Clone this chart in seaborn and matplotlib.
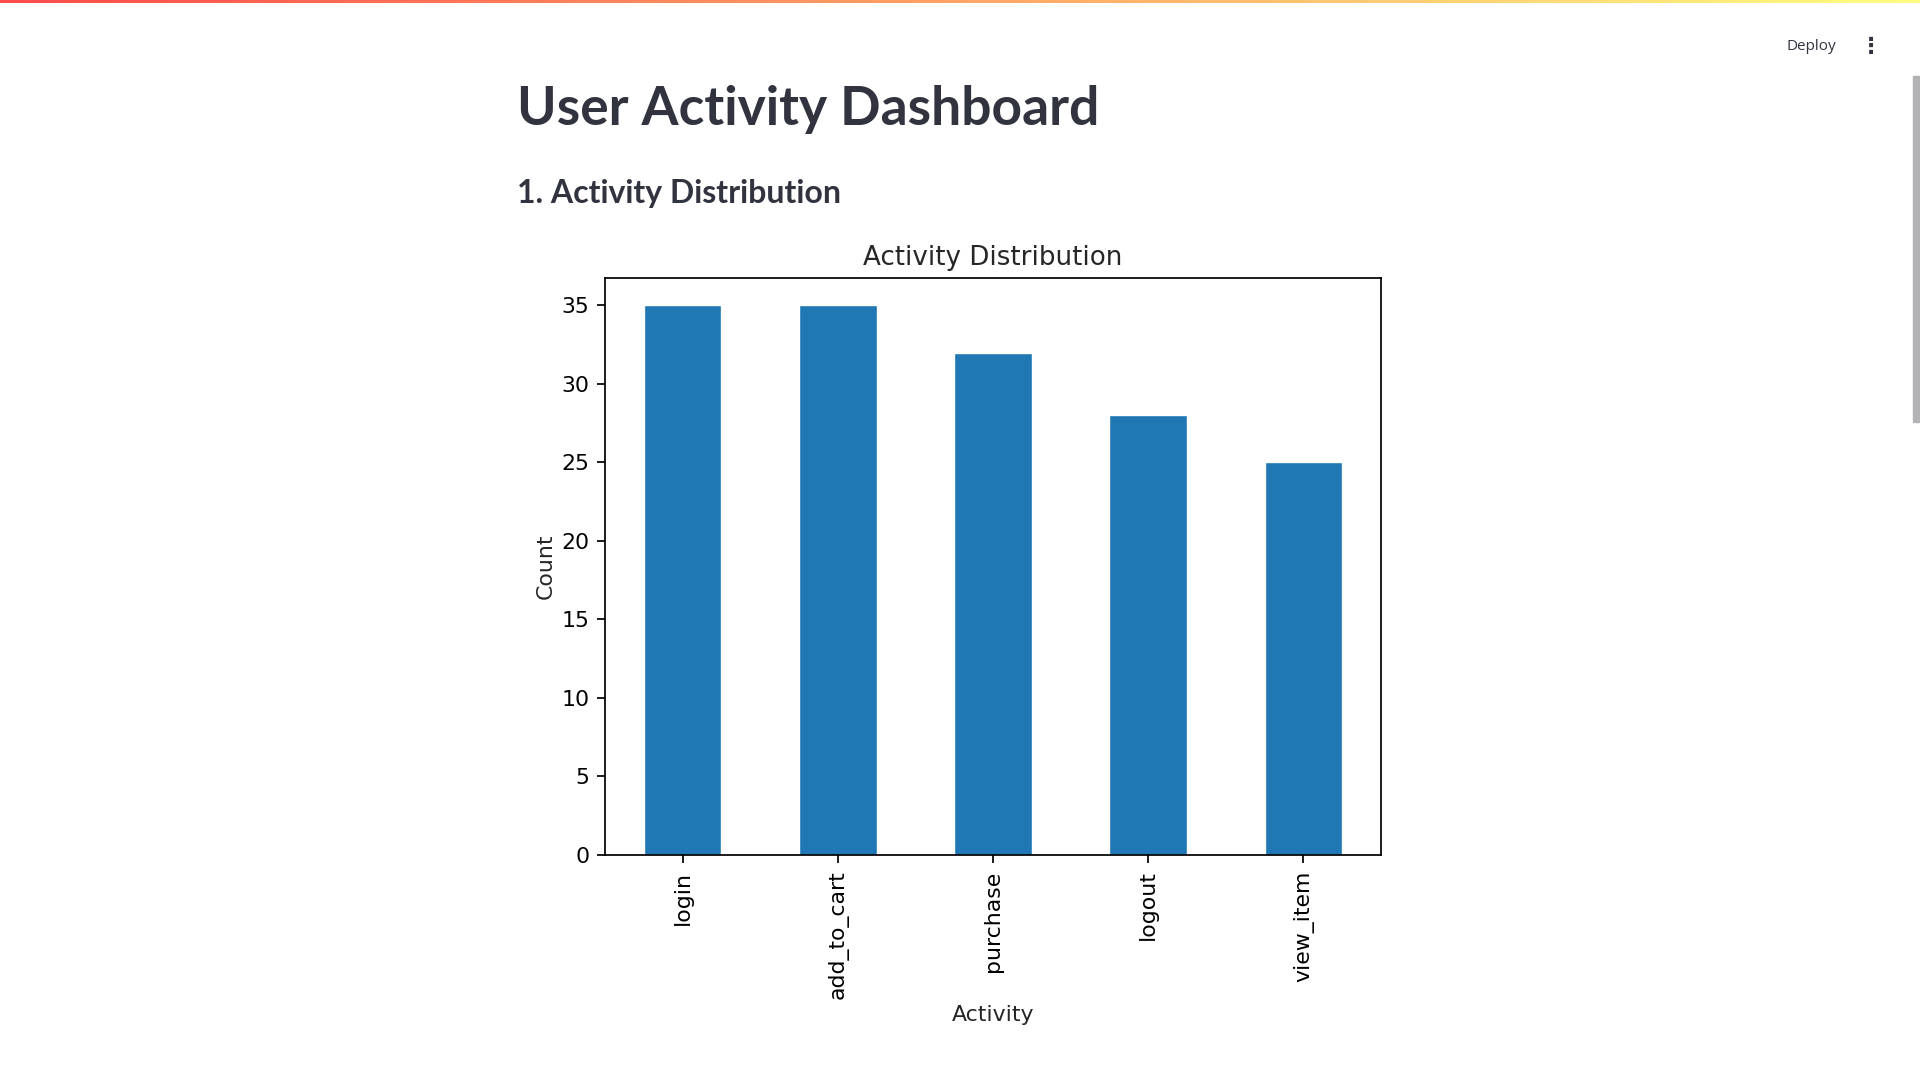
import numpy as np
import pandas as pd
import matplotlib
matplotlib.use("Agg")
import matplotlib.pyplot as plt
import seaborn as sns
from matplotlib.patches import Rectangle

# activity counts
activities = ["login", "add_to_cart", "purchase", "logout", "view_item"]
counts = [35, 35, 32, 28, 25]

df = pd.DataFrame({"Activity": activities, "Count": counts})

sns.set_style("white")
plt.rcParams['font.family'] = ['DejaVu Sans']
plt.rcParams['axes.linewidth'] = 1.25
plt.rcParams['xtick.major.width'] = 1.25
plt.rcParams['ytick.major.width'] = 1.25
plt.rcParams['xtick.major.size'] = 5.6
plt.rcParams['ytick.major.size'] = 5.6
plt.rcParams['xtick.major.pad'] = 5.6
plt.rcParams['ytick.major.pad'] = 5.6

W, H = 1920, 1080
fig = plt.figure(figsize=(19.2, 10.8), dpi=100)
fig.patch.set_facecolor("white")

# streamlit header gradient
top = fig.add_axes([0, 1 - 3 / H, 1, 3 / H])
grad = np.linspace(0, 1, 256).reshape(1, -1)
cmap = matplotlib.colors.LinearSegmentedColormap.from_list("hdr", ["#ff4b4b", "#fffd80"])
top.imshow(grad, aspect="auto", cmap=cmap)
top.axis("off")

# scrollbar
fig.patches.append(Rectangle((1913 / W, 1 - 422 / H), 6 / W, 346 / H,
                             transform=fig.transFigure, color="#b3b3b6", zorder=0))

txt = "#31333F"
fig.text(1787 / W, 1 - 47 / H, "Deploy", fontsize=11, color=txt, va="center",
         family=["Open Sans", "DejaVu Sans"])
fig.text(1871 / W, 1 - 47 / H, "\u22EE", fontsize=16, color=txt, va="center", ha="center",
         fontweight="bold")

fig.text(517 / W, 1 - 110 / H, "User Activity Dashboard", fontsize=38.4, fontweight="bold",
         color=txt, va="center", family=["Lato", "DejaVu Sans"])
fig.text(517 / W, 1 - 193 / H, "1. Activity Distribution", fontsize=23, fontweight="bold",
         color=txt, va="center", family=["Lato", "DejaVu Sans"])

ax = fig.add_axes([605 / W, 1 - 855 / H, 776 / W, 577 / H])
sns.barplot(data=df, x="Activity", y="Count", color="#1f77b4", saturation=1,
            width=0.5, ax=ax)
ax.set_xlim(-0.5, len(activities) - 0.5)
ax.set_ylim(0, max(counts) * 1.05)
ax.set_yticks(range(0, 36, 5))
for s in ax.spines.values():
    s.set_visible(True)
    s.set_color("black")
ax.tick_params(axis="both", labelsize=15.8, direction="out", bottom=True, left=True,
               colors="black")
ax.tick_params(axis="x", labelrotation=90)
ax.set_title("Activity Distribution", fontsize=18.8, pad=9.5)
ax.set_xlabel("Activity", fontsize=15.8)
ax.set_ylabel("Count", fontsize=15.8)

fig.savefig("out.png", dpi=100, facecolor="white")
